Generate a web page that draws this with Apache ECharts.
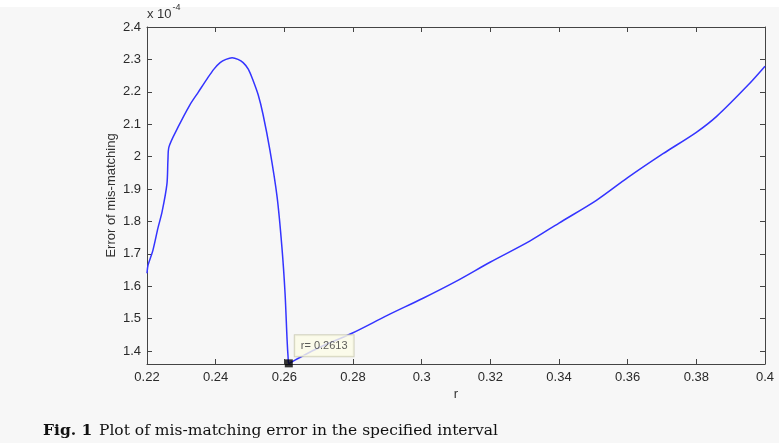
<!DOCTYPE html>
<html>
<head>
<meta charset="utf-8">
<script src="https://cdn.jsdelivr.net/npm/echarts@6/dist/echarts.min.js"></script>
<style>
  html, body { margin: 0; padding: 0; background: #f7f7f7; }
  #chart { width: 779px; height: 443px; }
</style>
</head>
<body>
<div id="chart"></div>
<script>
// r values and mis-matching error (x 10^-4)
var rVals = [0.2200, 0.2203, 0.2217, 0.2232, 0.2244, 0.2258, 0.2261, 0.2264,
             0.2290, 0.2325, 0.2350, 0.2375, 0.2395, 0.2413, 0.2430, 0.2448,
             0.2465, 0.2480, 0.2495, 0.2509, 0.2524, 0.2538, 0.2558, 0.2579,
             0.2593, 0.2602, 0.2608, 0.2611, 0.2613, 0.2631, 0.2700, 0.2797,
             0.2900, 0.3004, 0.3100, 0.3199, 0.3316, 0.3400, 0.3509, 0.3600,
             0.3703, 0.3800, 0.3860, 0.3950, 0.4000];
var errVals = [1.640, 1.665, 1.710, 1.780, 1.830, 1.915, 1.990, 2.030,
               2.090, 2.160, 2.200, 2.240, 2.270, 2.290, 2.300, 2.305,
               2.300, 2.290, 2.270, 2.235, 2.190, 2.130, 2.020, 1.875,
               1.720, 1.580, 1.435, 1.380, 1.362, 1.372, 1.410, 1.455,
               1.510, 1.563, 1.615, 1.674, 1.740, 1.795, 1.865, 1.935,
               2.009, 2.075, 2.125, 2.220, 2.279];
var minPoint = [0.2613, 1.362];
var xTicks = [0.22, 0.24, 0.26, 0.28, 0.3, 0.32, 0.34, 0.36, 0.38, 0.4];
var yTicks = [1.4, 1.5, 1.6, 1.7, 1.8, 1.9, 2.0, 2.1, 2.2, 2.3, 2.4];

var lineData = [];
for (var i = 0; i < rVals.length; i++) {
    lineData.push([rVals[i], errVals[i]]);
}

var axisCol = '#444';
var sans = 'Liberation Sans, Arial, sans-serif';
var labelFont = { color: '#2a2a2a', fontSize: 13, fontFamily: sans };

function fmt(v) {
    return String(Math.round(v * 100) / 100);
}

var myChart = echarts.init(document.getElementById('chart'));
myChart.setOption({
    backgroundColor: '#f7f7f7',
    animation: false,
    grid: { left: 147, right: 14, top: 27, bottom: 79, containLabel: false },
    xAxis: [
        {
            type: 'value', position: 'bottom', min: 0.22, max: 0.4,
            name: 'r', nameLocation: 'middle', nameGap: 24, nameMoveOverlap: false,
            nameTextStyle: { color: '#333', fontSize: 13, fontFamily: sans },
            axisLine: { show: true, onZero: false, lineStyle: { color: axisCol, width: 1 } },
            axisTick: { show: true, inside: true, length: 5, customValues: xTicks, lineStyle: { color: axisCol } },
            axisLabel: Object.assign({ margin: 7, customValues: xTicks, formatter: fmt }, labelFont),
            splitLine: { show: false }
        },
        {
            type: 'value', position: 'top', min: 0.22, max: 0.4,
            axisLine: { show: true, onZero: false, lineStyle: { color: axisCol, width: 1 } },
            axisTick: { show: true, inside: true, length: 5, customValues: xTicks, lineStyle: { color: axisCol } },
            axisLabel: { show: false },
            splitLine: { show: false }
        }
    ],
    yAxis: [
        {
            type: 'value', position: 'left', min: 1.36, max: 2.4,
            name: 'Error of mis-matching', nameLocation: 'middle', nameGap: 29, nameRotate: 90,
            nameMoveOverlap: false,
            nameTextStyle: { color: '#333', fontSize: 13, fontFamily: sans },
            axisLine: { show: true, onZero: false, lineStyle: { color: axisCol, width: 1 } },
            axisTick: { show: true, inside: true, length: 5, customValues: yTicks, lineStyle: { color: axisCol } },
            axisLabel: Object.assign({ margin: 6, customValues: yTicks, formatter: fmt }, labelFont),
            splitLine: { show: false }
        },
        {
            type: 'value', position: 'right', min: 1.36, max: 2.4,
            axisLine: { show: true, onZero: false, lineStyle: { color: axisCol, width: 1 } },
            axisTick: { show: true, inside: true, length: 5, customValues: yTicks, lineStyle: { color: axisCol } },
            axisLabel: { show: false },
            splitLine: { show: false }
        }
    ],
    graphic: [
        { type: 'rect', left: 0, top: 0, shape: { width: 779, height: 7 }, style: { fill: '#ffffff' }, z: -1 },
        {
            type: 'text', left: 147, top: 3,
            style: {
                text: '{a|x 10}{b|-4}',
                rich: {
                    a: { fontSize: 13, fontFamily: sans, fill: '#333', padding: [8, 0, 0, 0] },
                    b: { fontSize: 9, fontFamily: sans, fill: '#333', padding: [0, 0, 6, 1] }
                }
            }
        },
        {
            type: 'text', left: 43, top: 423,
            style: {
                text: '{b|Fig. 1}  {n|Plot of mis-matching error in the specified interval}',
                rich: {
                    b: { fontSize: 15.5, fontWeight: 'bold', fontFamily: 'DejaVu Serif, serif', fill: '#111' },
                    n: { fontSize: 15.5, fontFamily: 'DejaVu Serif, serif', fill: '#111' }
                }
            }
        }
    ],
    series: [
        {
            type: 'line', xAxisIndex: 0, yAxisIndex: 0,
            data: lineData, showSymbol: false, smooth: 0.3,
            lineStyle: { color: '#3434ff', width: 1.5 }
        },
        {
            type: 'scatter', xAxisIndex: 0, yAxisIndex: 0,
            data: [minPoint], symbol: 'rect', symbolSize: 8,
            itemStyle: { color: '#000' },
            label: {
                show: true, position: [10, -24],
                formatter: 'r= ' + minPoint[0],
                fontSize: 11, color: '#333', fontFamily: sans,
                backgroundColor: '#fbfbe6', borderColor: '#c8c8b0', borderWidth: 1,
                padding: [5, 6]
            },
            z: 5
        }
    ]
});
</script>
</body>
</html>
